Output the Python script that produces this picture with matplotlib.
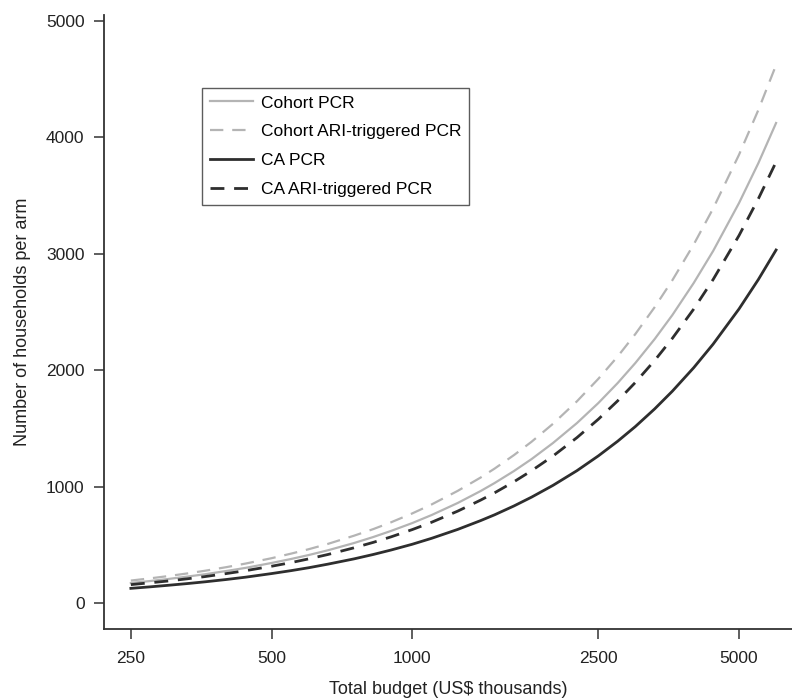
import matplotlib
matplotlib.use('Agg')
import matplotlib.pyplot as plt

plt.rcParams['font.family'] = ['Liberation Sans', 'DejaVu Sans']

# total budget, US$ thousands
budget = [250, 275, 300, 330, 360, 400, 440, 500, 550, 600, 660, 750, 825, 900,
          1000, 1100, 1250, 1400, 1500, 1650, 1800, 2000, 2250, 2500, 2750,
          3000, 3300, 3600, 4000, 4400, 5000, 5500, 6000]

# households per arm
cohortPcr = [172, 189, 206, 227, 247, 275, 302, 344, 378, 412, 453, 515, 567, 619,
             687, 756, 859, 962, 1031, 1134, 1237, 1375, 1546, 1718, 1890,
             2062, 2268, 2474, 2750, 3024, 3437, 3780, 4124]
cohortAri = [193, 212, 231, 254, 277, 308, 339, 385, 424, 462, 508, 578, 635, 693,
             770, 847, 963, 1078, 1155, 1271, 1386, 1540, 1733, 1926, 2118,
             2311, 2542, 2773, 3081, 3389, 3852, 4237, 4622]
caPcr = [126, 139, 152, 167, 182, 202, 222, 253, 278, 303, 334, 379, 417, 455,
         505, 556, 632, 708, 758, 834, 910, 1011, 1137, 1264, 1390,
         1516, 1668, 1820, 2022, 2224, 2527, 2780, 3033]
caAri = [158, 174, 189, 208, 227, 253, 278, 316, 347, 379, 417, 474, 521, 568,
         631, 694, 789, 884, 947, 1042, 1137, 1263, 1421, 1579, 1737,
         1895, 2084, 2274, 2526, 2779, 3158, 3474, 3789]

xTicks = [250, 500, 1000, 2500, 5000]
yTicks = [0, 1000, 2000, 3000, 4000, 5000]

fig = plt.figure(figsize=(7.92, 6.98), dpi=100)
ax = fig.add_axes([0.1313, 0.0989, 0.8687, 0.8796])

light = '#b4b4b4'
dark = '#2e2e2e'
ax.plot(budget, cohortPcr, color=light, lw=1.6, label='Cohort PCR')
ax.plot(budget, cohortAri, color=light, lw=1.6, ls=(0, (6, 4)), label='Cohort ARI-triggered PCR')
ax.plot(budget, caPcr, color=dark, lw=2.0, label='CA PCR')
ax.plot(budget, caAri, color=dark, lw=2.0, ls=(0, (5, 3.5)), label='CA ARI-triggered PCR')

ax.set_xscale('log')
ax.set_xlim(219, 6490)
ax.set_ylim(-223, 5052)
ax.set_xticks(xTicks)
ax.set_xticklabels([str(t) for t in xTicks])
ax.minorticks_off()
ax.set_yticks(yTicks)

for side in ['top', 'right']:
    ax.spines[side].set_visible(False)
for side in ['left', 'bottom']:
    ax.spines[side].set_color('#333333')
    ax.spines[side].set_linewidth(1.3)

ax.tick_params(direction='out', length=7, width=1.1, color='#333333',
               labelsize=12.5, labelcolor='#222222', pad=7)
ax.tick_params(axis='x', pad=9)

ax.set_xlabel('Total budget (US$ thousands)', fontsize=13, color='#222222', labelpad=11)
ax.set_ylabel('Number of households per arm', fontsize=13, color='#222222', labelpad=11)

leg = ax.legend(loc='upper left', bbox_to_anchor=(0.13, 0.896), fontsize=12.5,
                frameon=True, fancybox=False, edgecolor='#333333',
                handlelength=2.5, handletextpad=0.45, borderpad=0.45,
                labelspacing=0.79)
leg.get_frame().set_linewidth(1.0)

plt.savefig('out.png', format='png')
